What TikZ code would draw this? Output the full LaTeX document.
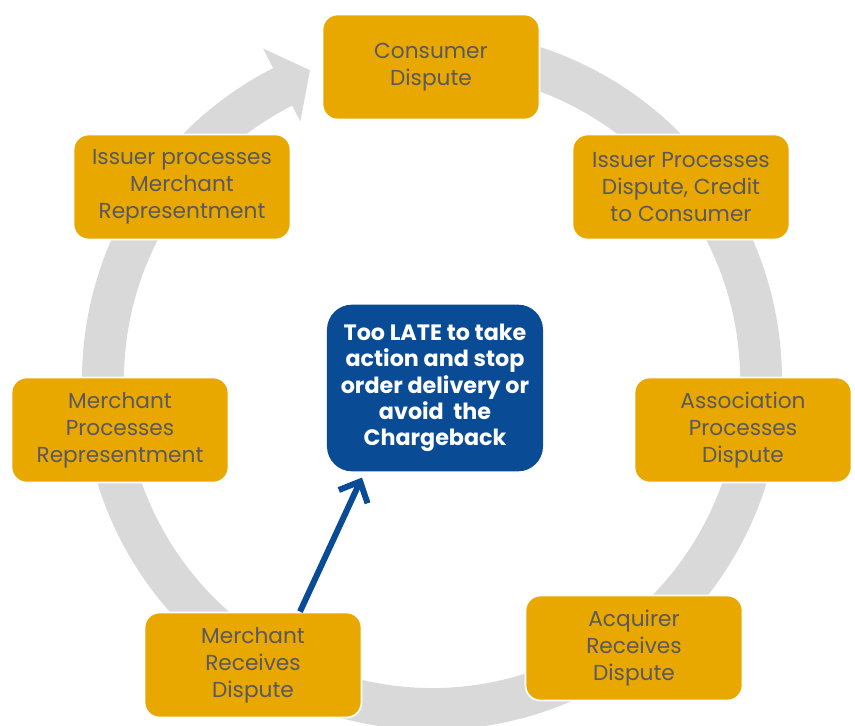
\documentclass[tikz,border=0pt]{standalone}
\usepackage{fontspec}
\setmainfont{Poppins}
\usetikzlibrary{arrows.meta,calc}
\definecolor{ringgray}{RGB}{217,217,217}
\definecolor{phaseorange}{RGB}{232,168,0}
\definecolor{phasetext}{RGB}{90,88,96}
\definecolor{lateblue}{RGB}{10,75,150}
\tikzset{
    phase/.style={draw=white,line width=1.5pt,fill=phaseorange,rounded corners=0.45cm,
        minimum width=6.51cm,minimum height=3.15cm,align=center,text=phasetext,
        font=\fontsize{18.5}{23}\selectfont},
    latebox/.style={fill=lateblue,rounded corners=0.75cm,minimum width=6.48cm,
        minimum height=5cm,align=center,text=white,
        font=\bfseries\fontsize{19}{22.5}\selectfont}
}
\begin{document}
\begin{tikzpicture}[x=0.03cm,y=0.03cm]
    \useasboundingbox (0,0) rectangle (855,726);
    \begin{scope}[shift={(432,346)}]
        \fill[ringgray] (95:350) arc[start angle=95,end angle=-243,radius=350]
            -- (117:372) -- (111.5:333) -- (117:290) -- (117:308)
            arc[start angle=-243,end angle=95,radius=308] -- cycle;
    \end{scope}
    \node[phase] (consumer) at (431,659) {Consumer\\Dispute};
    \node[phase] (issuerdisp) at (681,539) {Issuer Processes\\Dispute, Credit\\to Consumer};
    \node[phase] (assoc) at (743,296) {Association\\Processes\\Dispute};
    \node[phase] (acq) at (634,78) {Acquirer\\Receives\\Dispute};
    \node[phase] (mrec) at (253,61) {Merchant\\Receives\\Dispute};
    \node[phase] (mproc) at (120,296) {Merchant\\Processes\\Representment};
    \node[phase] (issuerrep) at (182,539) {Issuer processes\\Merchant\\Representment};
    \node[latebox] (late) at (435,338) {Too LATE to take\\action and stop\\order delivery or\\avoid~ the\\Chargeback};
    \draw[lateblue,line width=0.18cm,-{Straight Barb[length=0.5cm,width=0.95cm]}]
        ($(mrec.north)+(47,0)$) -- ($(late.south)+(-73,-6)$);
\end{tikzpicture}
\end{document}
